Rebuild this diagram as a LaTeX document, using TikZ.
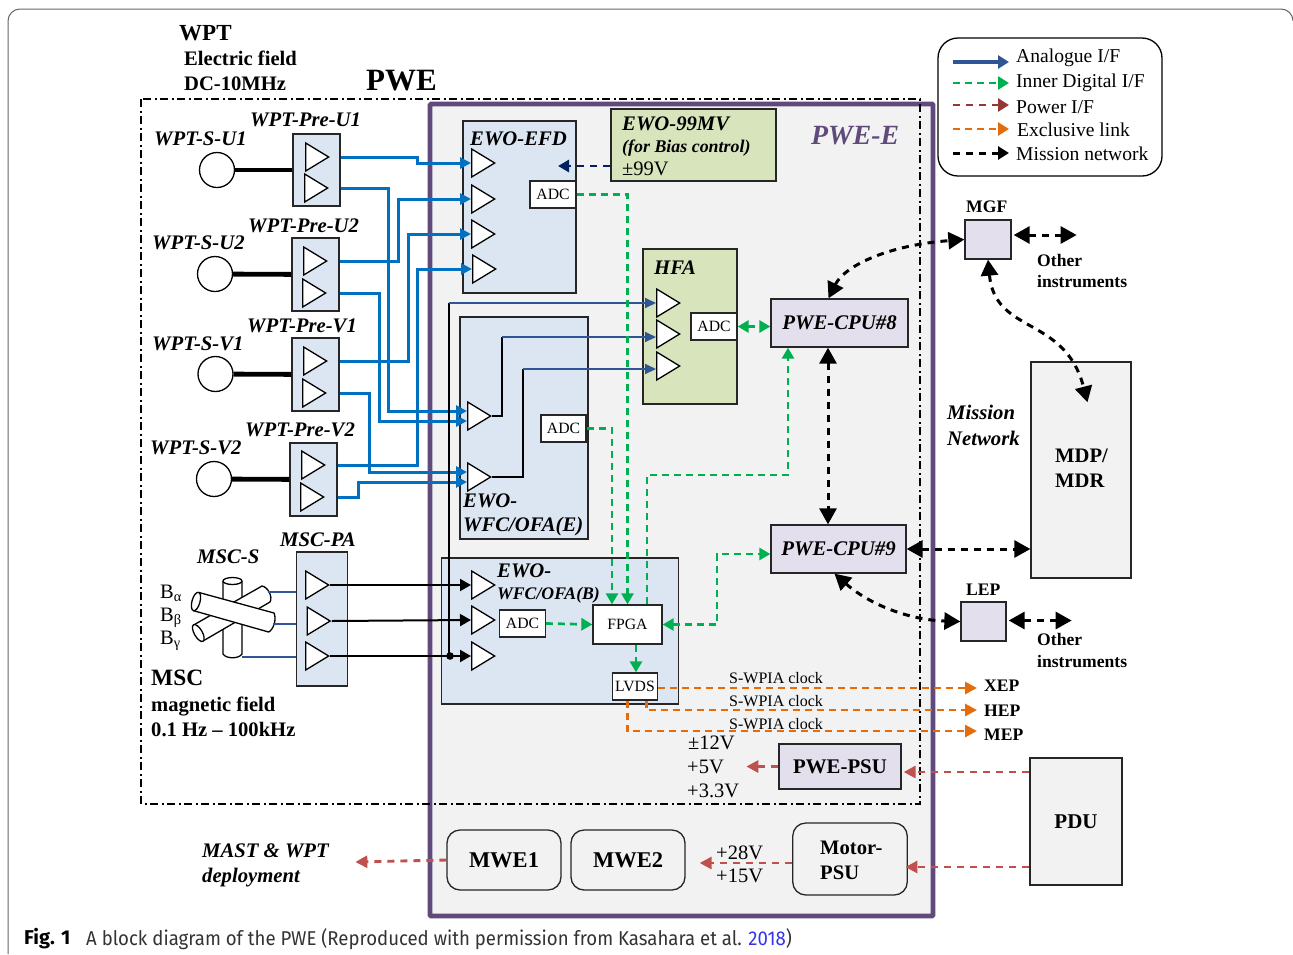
\documentclass[tikz,border=0pt]{standalone}
\usepackage{fontspec}
\setmainfont{Liberation Serif}
\newfontfamily\capfont[FakeStretch=0.93]{Fira Sans}
\newfontfamily\capbold{Fira Sans}
\usetikzlibrary{arrows.meta,shapes.geometric,positioning,calc}
\definecolor{PweViolet}{RGB}{96,74,123}
\definecolor{PweGray}{RGB}{242,242,242}
\definecolor{BlockBlue}{RGB}{220,230,242}
\definecolor{BlockGreen}{RGB}{215,228,188}
\definecolor{BlockLilac}{RGB}{228,223,236}
\definecolor{LinkBlue}{RGB}{0,112,192}
\definecolor{AnalogBlue}{RGB}{47,85,151}
\definecolor{DigiGreen}{RGB}{0,176,80}
\definecolor{PowerRed}{RGB}{192,80,77}
\definecolor{PowerDark}{RGB}{149,55,53}
\definecolor{ExclOrange}{RGB}{228,108,10}
\definecolor{BiasNavy}{RGB}{0,32,96}
\definecolor{CiteBlue}{RGB}{51,51,240}
\newcommand{\fsz}[2]{\fontsize{#1}{#2}\selectfont}
\tikzset{
  block/.style={draw=black!85,line width=1.3pt,inner sep=0pt,align=center},
  blockblue/.style={block,fill=BlockBlue},
  blockgreen/.style={block,fill=BlockGreen},
  blocklilac/.style={block,fill=BlockLilac,text height=13.7pt,text depth=0pt,font=\fsz{20.8}{24}\bfseries},
  blockgray/.style={block,fill=PweGray,text height=13.7pt,text depth=0pt,font=\fsz{21}{25}\bfseries},
  adcbox/.style={block,fill=white,text height=10.4pt,text depth=0pt,font=\fsz{15.7}{18}},
  motorbox/.style={block,rounded corners=13pt,text height=14.8pt,text depth=0pt,font=\fsz{22.5}{25}\bfseries},
  amp/.style={draw=black,line width=1.3pt,fill=white,isosceles triangle,isosceles triangle stretches,
    minimum width=28pt,minimum height=23pt,inner sep=0pt,anchor=lower side},
  sensor/.style={draw=black,line width=1.3pt,fill=white,circle,minimum size=35pt,inner sep=0pt},
  lab/.style={anchor=west,inner sep=0pt},
  bi/.style={lab,text height=13.7pt,text depth=0pt,font=\fsz{20.7}{24}\bfseries\itshape},
  bd/.style={lab,text height=13.6pt,text depth=0pt,font=\fsz{20.6}{25}\bfseries},
  rg/.style={lab,text height=13.5pt,text depth=0pt,font=\fsz{20.5}{24}},
  smallbd/.style={lab,text height=11.6pt,text depth=0pt,font=\fsz{17.6}{21}\bfseries},
  clock/.style={lab,text height=10.6pt,text depth=0pt,font=\fsz{16}{18}},
  legendtxt/.style={lab,text height=12.9pt,text depth=0pt,font=\fsz{19.6}{22}},
  boom/.style={line width=4.8pt,black},
  anlg/.style={draw=LinkBlue,line width=3pt,>={Triangle[length=11pt,width=11pt]}},
  thinblue/.style={draw=AnalogBlue,line width=1.9pt,>={Triangle[length=11pt,width=10pt]}},
  sigblack/.style={draw=black,line width=2pt,>={Triangle[length=11pt,width=12pt]}},
  digi/.style={draw=DigiGreen,line width=2.7pt,dash pattern=on 7pt off 5pt,>={Triangle[length=11pt,width=12pt]}},
  bias/.style={draw=BiasNavy,line width=2.7pt,dash pattern=on 7pt off 6pt,>={Triangle[length=11pt,width=12pt]}},
  excl/.style={draw=ExclOrange,line width=2.9pt,dash pattern=on 7pt off 5pt,>={Triangle[length=12pt,width=12pt]}},
  pwr/.style={draw=PowerRed,line width=2.9pt,dash pattern=on 7pt off 6pt,>={Triangle[length=12pt,width=12pt]}},
  pwrdark/.style={draw=PowerDark,line width=2.9pt,dash pattern=on 7pt off 6pt,>={Triangle[length=12pt,width=12pt]}},
  mnet/.style={draw=black,line width=3pt,dash pattern=on 7pt off 6pt,>={Triangle[length=16pt,width=17pt]}},
  legendtip/.style={>={Triangle[length=11pt,width=13pt]}},
  cyl/.style={draw=black,line width=1.3pt,fill=white},
}
\begin{document}
\begin{tikzpicture}[x=1pt,y=-1pt,>=Latex]
      \useasboundingbox (0,0) rectangle (1293,954);
      \draw[line width=1pt,black!60] (8,954)--(8,21) arc[start angle=180,end angle=90,radius=12pt]--(1281,9) arc[start angle=90,end angle=0,radius=12pt];
      \draw[line width=4.6pt,PweViolet,fill=PweGray,rounded corners=1pt] (430,104) rectangle (933,916);
      \node[blockblue,minimum width=113pt,minimum height=172pt] (efd) at (519.5,207) {};
      \node[blockgreen,minimum width=165pt,minimum height=72pt] (ewomv) at (693.5,145) {};
      \node[blockgreen,minimum width=94pt,minimum height=155pt] (hfa) at (690,326.5) {};
      \node[blockblue,minimum width=128pt,minimum height=222pt] (wfce) at (524,428) {};
      \node[blockblue,minimum width=237.5pt,minimum height=146pt] (wfcb) at (560,631) {};
      \node[blockblue,minimum width=47pt,minimum height=72pt] (preuone) at (316.5,170) {};
      \node[blockblue,minimum width=47pt,minimum height=73pt] (preutwo) at (315.5,274.5) {};
      \node[blockblue,minimum width=47pt,minimum height=73pt] (prevone) at (315.5,374.5) {};
      \node[blockblue,minimum width=47pt,minimum height=73pt] (prevtwo) at (313.5,479.5) {};
      \node[blockblue,minimum width=51pt,minimum height=134pt] (mscpa) at (322,619) {};
      \node[sensor] (suone) at (217,170) {};
      \node[sensor] (sutwo) at (215,274) {};
      \node[sensor] (svone) at (215.5,374) {};
      \node[sensor] (svtwo) at (214,479) {};
      \draw[boom] (suone)--(preuone);
      \draw[boom] (sutwo)--(preutwo);
      \draw[boom] (svone)--(prevone);
      \draw[boom] (svtwo)--(prevtwo);
      \node[amp] (tuonea) at (305,157) {};
      \node[amp] (tuoneb) at (304,188) {};
      \node[amp] (tutwoa) at (303,261) {};
      \node[amp] (tutwob) at (302,293) {};
      \node[amp] (tvonea) at (303,361) {};
      \node[amp] (tvoneb) at (302,393) {};
      \node[amp] (tvtwoa) at (301,465) {};
      \node[amp] (tvtwob) at (300,497) {};
      \node[amp] (efda) at (471,163) {};
      \node[amp] (efdb) at (471,199) {};
      \node[amp] (efdc) at (471,234) {};
      \node[amp] (efdd) at (472,269) {};
      \node[amp] (ewfa) at (467,416) {};
      \node[amp] (ewfb) at (467,477) {};
      \node[amp] (bwfa) at (471,585) {};
      \node[amp] (bwfb) at (471,620) {};
      \node[amp] (bwfc) at (471,656) {};
      \node[amp] (hfaa) at (656,303) {};
      \node[amp] (hfab) at (656,334) {};
      \node[amp] (hfac) at (656,366) {};
      \node[amp] (mpaa) at (305,585) {};
      \node[amp] (mpab) at (306.5,621) {};
      \node[amp] (mpac) at (305,656) {};
      \node[adcbox,minimum width=46pt,minimum height=27pt] (adcefd) at (553,194.5) {ADC};
      \node[adcbox,minimum width=46pt,minimum height=27pt] (adchfa) at (714,326.5) {ADC};
      \node[adcbox,minimum width=45pt,minimum height=27pt] (adce) at (563.5,428.5) {ADC};
      \node[adcbox,minimum width=45.5pt,minimum height=27pt] (adcb) at (522.5,623.5) {ADC};
      \node[adcbox,minimum width=69pt,minimum height=39pt] (fpga) at (627.5,624.5) {FPGA};
      \node[adcbox,minimum width=45.5pt,minimum height=27pt] (lvds) at (635,686.5) {LVDS};
      \node[blocklilac,minimum width=137pt,minimum height=48pt,font=\fsz{20.8}{24}\bfseries\itshape] (cpueight) at (839.5,323) {PWE-CPU\#8};
      \node[blocklilac,minimum width=135pt,minimum height=48pt,font=\fsz{20.8}{24}\bfseries\itshape] (cpunine) at (838.5,549) {PWE-CPU\#9};
      \node[blocklilac,minimum width=122pt,minimum height=45pt] (pwepsu) at (840,766.5) {PWE-PSU};
      \node[motorbox,minimum width=114.5pt,minimum height=72pt] (motor) at (850,859) {};
      \node[motorbox,minimum width=114pt,minimum height=60pt] (mweone) at (504,860) {MWE1};
      \node[motorbox,minimum width=114pt,minimum height=60pt] (mwetwo) at (628,860) {MWE2};
      \node[blocklilac,minimum width=46pt,minimum height=39pt] (mgf) at (988,239.5) {};
      \node[blocklilac,minimum width=45pt,minimum height=39pt] (lep) at (983.5,621.5) {};
      \node[blockgray,minimum width=100pt,minimum height=216pt] (mdp) at (1081,470) {};
      \node[blockgray,minimum width=92pt,minimum height=127pt] (pdu) at (1076,821.5) {PDU};
      \draw[line width=1.6pt,dash pattern=on 8pt off 3.5pt on 2pt off 3.5pt] (141,99) rectangle (920,804);
      \draw[anlg,->] (tuonea.lower side -| preuone.east) -| (417,163)--(efda.lower side);
      \draw[anlg,->] (tuoneb.lower side -| preuone.east) -| (388,411)--([yshift=5pt]ewfa.lower side);
      \draw[anlg,->] (tutwoa.lower side -| preutwo.east) -| (398,199)--(efdb.lower side);
      \draw[anlg,->] (tutwob.lower side -| preutwo.east) -| (379,421)--([yshift=-5pt]ewfa.lower side);
      \draw[anlg,->] (tvonea.lower side -| prevone.east) -| (408,234)--(efdc.lower side);
      \draw[anlg,->] (tvoneb.lower side -| prevone.east) -| (369,472)--([yshift=5pt]ewfb.lower side);
      \draw[anlg,->] (tvtwoa.lower side -| prevtwo.east) -| (417,269)--(efdd.lower side);
      \draw[anlg,->] (tvtwob.lower side -| prevtwo.east) -| (358,482)--([yshift=-5pt]ewfb.lower side);
      \coordinate (bendone) at (502,337);
      \coordinate (bendtwo) at (523,369);
      \coordinate (bendtop) at (448.5,303);
      \coordinate (junction) at (450,656);
      \coordinate (efdin) at (558,166);
      \draw[sigblack] (ewfa.apex) -| (bendone);
      \draw[sigblack] (ewfb.apex) -| (bendtwo);
      \draw[sigblack] (bendtop)--(bendtop |- junction);
      \draw[thinblue,->] (bendtop)--(hfaa.lower side);
      \draw[thinblue,->] (bendone)--([yshift=-3pt]hfab.lower side);
      \draw[thinblue,->] (bendtwo)--([yshift=-3pt]hfac.lower side);
      \draw[sigblack,->] (mpaa.apex)--(bwfa.lower side);
      \draw[sigblack,->] (mpab.apex)--(bwfb.lower side);
      \draw[sigblack,->] (mpac.apex)--(bwfc.lower side);
      \fill (junction) circle (3.8pt);
      \draw[cyl] (223,581)--(223,654) .. controls (226,659) and (239,659) .. (242,654)--(242,581);
      \draw[cyl] (232.5,581) ellipse (9.5 and 3.5);
      \draw[cyl] (193.6,625)--(262,586) .. controls (268,587) and (273,597) .. (270,602)--(203,641);
      \draw[cyl,rotate around={29.8:(198.3,633)}] (198.3,633) ellipse (4 and 9.5);
      \draw[cyl] (199,592.5)--(274,613) .. controls (277,620) and (273,630) .. (268.6,632)--(193,610.5);
      \draw[cyl,rotate around={-15.6:(196,601.5)}] (196,601.5) ellipse (4 and 9.5);
      \draw[AnalogBlue,line width=1.4pt] (267.5,592)--(296,592);
      \draw[AnalogBlue,line width=1.4pt] (273,624)--(296,624);
      \draw[AnalogBlue,line width=1.4pt] (242,657)--(296,657);
      \draw[digi,->] (adcefd.east) -| (fpga.north);
      \draw[digi,->] (adce.east) -| ([xshift=-15.5pt]fpga.north);
      \draw[digi,->] ([xshift=19.5pt]fpga.north) |- (788,475)--([xshift=-51.5pt]cpueight.south);
      \draw[digi,<->] (fpga.east) -| (717,554)--([yshift=-5pt]cpunine.west);
      \draw[digi,->] (adcb.east)--(fpga.west);
      \draw[digi,->] ([xshift=8.5pt]fpga.south)--([xshift=1pt]lvds.north);
      \draw[digi,<->] (adchfa.east)--(cpueight.west |- adchfa.east);
      \draw[bias,->] (ewomv.west |- efdin)--(efdin);
      \coordinate (xeptip) at (977,688);
      \node[smallbd] (xep) at (984,686) {XEP};
      \node[smallbd] (hep) at (984,711) {HEP};
      \node[smallbd] (mep) at (984,735) {MEP};
      \draw[excl,->] (xeptip -| lvds.east)--([xshift=-7pt,yshift=-2pt]xep.west);
      \draw[excl,->] ([xshift=11.5pt]lvds.south) |- ([xshift=-7pt,yshift=1pt]hep.west);
      \draw[excl,->] ([xshift=-7.5pt]lvds.south) |- ([xshift=-7pt,yshift=4pt]mep.west);
      \draw[pwr,->] ([yshift=-5.5pt]pdu.west |- pwepsu.east)--([xshift=2pt,yshift=-5.5pt]pwepsu.east);
      \draw[pwr,->] (pwepsu.west)--++(-32,0);
      \draw[pwr,->] ([yshift=-8pt]pdu.west |- motor.east)--([xshift=-2.5pt,yshift=-8pt]motor.east);
      \draw[pwr,->] ([yshift=-4pt]motor.west)--([xshift=14pt,yshift=-3pt]mwetwo.east);
      \draw[pwr,->] (mweone.west)--++(-91,2);
      \draw[mnet,<->] ([xshift=-11pt]cpueight.north) .. controls (845,265) and (890,245) .. (mgf.west);
      \draw[mnet,<->] ([xshift=-11.5pt]cpueight.south)--([xshift=-10.5pt]cpunine.north);
      \draw[mnet,<->] (mgf.south) .. controls (995,335) and (1065,315) .. ([xshift=6.5pt,yshift=-41pt]mdp.north);
      \draw[mnet,<->] (cpunine.east)--(mdp.west |- cpunine.east);
      \draw[mnet,<->] ([xshift=-4pt]cpunine.south) .. controls (870,605) and (910,620) .. (lep.west);
      \draw[mnet,<->] ([xshift=2pt,yshift=4.5pt]mgf.east)--++(63,0);
      \draw[mnet,<->] ([xshift=2pt,yshift=1pt]lep.east)--++(63,0);
      \node[lab,text height=15.2pt,text depth=0pt,font=\fsz{23}{26}\bfseries] (wpt) at (179,33) {WPT};
      \node[bd] (efield) at (184,59) {Electric field};
      \node[bd] (efreq) at (184,84) {DC-10MHz};
      \node[lab,text height=20.5pt,text depth=0pt,font=\fsz{31}{34}\bfseries] (pwe) at (366,80) {PWE};
      \node[lab,text height=18.3pt,text depth=0pt,font=\fsz{27.8}{30}\bfseries\itshape,text=PweViolet] (pwee) at (811,135) {PWE-E};
      \node[bi] (lpreuone) at (250,120) {WPT-Pre-U1};
      \node[bi] (lsuone) at (154,139) {WPT-S-U1};
      \node[bi] (lpreutwo) at (248,226) {WPT-Pre-U2};
      \node[bi] (lsutwo) at (152,243) {WPT-S-U2};
      \node[bi] (lprevone) at (247,326) {WPT-Pre-V1};
      \node[bi] (lsvone) at (152,344) {WPT-S-V1};
      \node[bi] (lprevtwo) at (245,430) {WPT-Pre-V2};
      \node[bi] (lsvtwo) at (150,448) {WPT-S-V2};
      \node[bi] (lmscpa) at (280,540) {MSC-PA};
      \node[bi] (lmscs) at (197,557) {MSC-S};
      \node[bi] (lefd) at (470,139) {EWO-EFD};
      \node[bi] (lewomv) at (622,124) {EWO-99MV};
      \node[lab,text height=11.8pt,text depth=0pt,font=\fsz{17.9}{20}\bfseries\itshape] (lbias) at (622,147) {(for Bias control)};
      \node[rg] (lbiasv) at (622,169) {±99V};
      \node[bi] (lhfa) at (654,268) {HFA};
      \node[bi] (lwfcea) at (463,501) {EWO-};
      \node[bi] (lwfceb) at (463,525) {WFC/OFA(E)};
      \node[bi] (lwfcba) at (497,571) {EWO-};
      \node[lab,text height=11.7pt,text depth=0pt,font=\fsz{17.7}{20}\bfseries\itshape] (lwfcbb) at (497,594) {WFC/OFA(B)};
      \node[bi] (lmissa) at (947,413) {Mission};
      \node[bi] (lmissb) at (947,439) {Network};
      \node[smallbd] (lmgf) at (966,207) {MGF};
      \node[smallbd] (lotherma) at (1037,261) {Other};
      \node[smallbd] (lothermb) at (1037,282) {instruments};
      \node[smallbd] (llep) at (966,590) {LEP};
      \node[smallbd] (lotherla) at (1037,640) {Other};
      \node[smallbd] (lotherlb) at (1037,662) {instruments};
      \node[bd] (lmdpa) at (1055,456) {MDP/};
      \node[bd] (lmdpb) at (1055,481) {MDR};
      \node[bd] (lmotora) at (820,848) {Motor-};
      \node[bd] (lmotorb) at (820,873) {PSU};
      \node[rg] (lbalpha) at (160,592) {B\textsubscript{α}};
      \node[rg] (lbbeta) at (160,615) {B\textsubscript{β}};
      \node[rg] (lbgamma) at (160,638) {B\textsubscript{γ}};
      \node[lab,text height=15.4pt,text depth=0pt,font=\fsz{23.4}{26}\bfseries] (lmsc) at (151,678) {MSC};
      \node[bd] (lmagn) at (151,705) {magnetic field};
      \node[bd] (lmfreq) at (151,730) {0.1 Hz – 100kHz};
      \node[clock] (lclka) at (729,678) {S-WPIA clock};
      \node[clock] (lclkb) at (729,701) {S-WPIA clock};
      \node[clock] (lclkc) at (729,724) {S-WPIA clock};
      \node[rg] (lvtwelve) at (688,743) {±12V};
      \node[rg] (lvfive) at (687,767) {+5V};
      \node[rg] (lvthree) at (687,791) {+3.3V};
      \node[rg] (lvtwoeight) at (716,853) {+28V};
      \node[rg] (lvfifteen) at (716,876) {+15V};
      \node[bi] (lmast) at (202,851) {MAST \& WPT};
      \node[bi] (ldeploy) at (202,876) {deployment};
      \draw[line width=1.3pt,rounded corners=20pt] (938,38) rectangle (1162,176);
      \node[legendtxt] (lgana) at (1016,56) {Analogue I/F};
      \node[legendtxt] (lgdig) at (1016,81) {Inner Digital I/F};
      \node[legendtxt] (lgpow) at (1016,107) {Power I/F};
      \node[legendtxt] (lgexc) at (1017,130) {Exclusive link};
      \node[legendtxt] (lgmis) at (1016,154) {Mission network};
      \draw[draw=AnalogBlue,line width=3.2pt,->,legendtip] ([shift={(-63pt,-6pt)}]lgana.west)--([shift={(-7pt,-6pt)}]lgana.west);
      \draw[digi,->,legendtip] ([shift={(-63pt,-2pt)}]lgdig.west)--([shift={(-7pt,-2pt)}]lgdig.west);
      \draw[pwrdark,->,legendtip] ([shift={(-63pt,2pt)}]lgpow.west)--([shift={(-7pt,2pt)}]lgpow.west);
      \draw[excl,->,legendtip] ([shift={(-64pt,1pt)}]lgexc.west)--([shift={(-8pt,1pt)}]lgexc.west);
      \draw[mnet,->,legendtip] ([shift={(-63pt,1pt)}]lgmis.west)--([shift={(-7pt,1pt)}]lgmis.west);
      \node[lab,font=\capbold\fsz{20}{24}\bfseries] (figno) at (24,939) {Fig. 1};
      \node[lab,font=\capfont\fsz{20}{24},text=black!80] (figcap) at (86,939) {A block diagram of the PWE (Reproduced with permission from Kasahara et al. \textcolor{CiteBlue}{2018})};
    \end{tikzpicture}
\end{document}
